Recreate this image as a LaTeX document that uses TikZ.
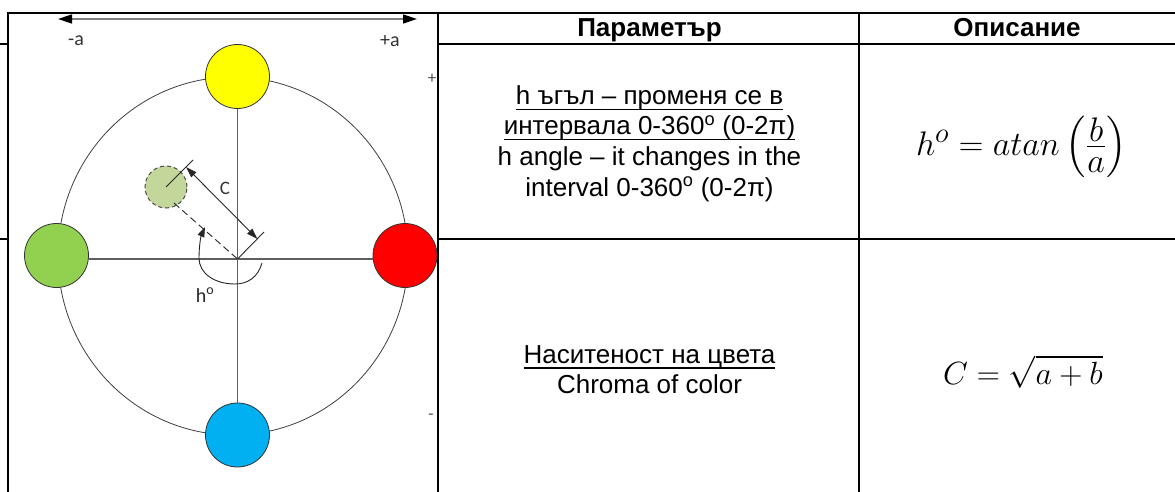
\documentclass[tikz,border=0pt]{standalone}
\usepackage{amsmath}
\usepackage{fontspec}
\setmainfont{Liberation Sans}
\newfontfamily\labfont{Carlito}
\usetikzlibrary{arrows.meta}
\definecolor{cyel}{RGB}{255,255,0}
\definecolor{cgrn}{RGB}{146,208,80}
\definecolor{cred}{RGB}{255,0,0}
\definecolor{cblu}{RGB}{0,176,240}
\definecolor{cpale}{RGB}{196,215,155}
\definecolor{axgray}{RGB}{95,95,95}
\newcommand\ulbox[1]{\setbox0\hbox{#1}\rlap{\rule[-5.5pt]{\wd0}{1.8pt}}\box0}
\begin{document}
\begin{tikzpicture}[x=1pt,y=1pt,
  tline/.style={line width=2pt},
  hue/.style={circle, draw=black!80, line width=0.8pt, minimum size=64pt, inner sep=0pt},
  lab/.style={font=\labfont\fontsize{20}{24}\selectfont, text=black!80, inner sep=0pt},
  cell/.style={font=\fontsize{26}{30}\selectfont, anchor=base, inner sep=0pt},
  head/.style={font=\bfseries\fontsize{26}{30}\selectfont, anchor=base, inner sep=0pt},
  formula/.style={font=\fontsize{24.88}{30}\selectfont, anchor=base, inner sep=0pt, transform shape},
  axisline/.style={draw=axgray, line width=1.3pt},
  thinline/.style={draw=black!85, line width=0.9pt},
  tipbig/.style={{Triangle[length=14pt,width=9pt,color=black]}-{Triangle[length=14pt,width=9pt,color=black]}},
  tipdim/.style={{Triangle[length=11pt,width=7pt]}-{Triangle[length=11pt,width=7pt]}},
  tipone/.style={-{Triangle[length=10pt,width=7pt]}}
]
\useasboundingbox (0,0) rectangle (1175,-492);
\fill[white] (0,0) rectangle (1175,-492);

% table rules
\draw[tline] (8,-13) -- (1175,-13);
\draw[tline] (0,-44) -- (1175,-44);
\draw[tline] (0,-239) -- (1175,-239);
\draw[line width=1.5pt] (859,-13) -- (859,-492);

% picture frame
\filldraw[fill=white, line width=2pt] (8,-13) rectangle (438,-500);

% top a-axis arrow
\coordinate (aL) at (58,-19);
\coordinate (aR) at (417,-19);
\draw[draw=gray, line width=1.5pt, tipbig] (aL) -- (aR);
\node[lab] (lmA) at (76,-41) {-a};
\node[lab] (lpA) at (390,-41) {+a};
\node[font=\labfont\fontsize{17}{18}\selectfont, text=black!70, inner sep=0pt] (pb) at (432,-79) {+};
\node[font=\labfont\fontsize{17}{18}\selectfont, text=black!70, inner sep=0pt] (mb) at (431,-417) {-};

% hue circle
\draw[black!75, line width=0.8pt] (233,-256) ellipse [x radius=175, y radius=179];

\coordinate (O) at (237.5,-259);
\node[hue, fill=cyel] (Y) at (237.5,-76.5) {};
\node[hue, fill=cblu] (B) at (237.5,-435) {};
\node[hue, fill=cgrn] (G) at (56.5,-255.5) {};
\node[hue, fill=cred] (R) at (405,-255.5) {};

\draw[axisline] (Y) -- (B);
\draw[axisline] (O -| G.east) -- (O -| R.west);

% chroma sample
\node[circle, draw=black!70, fill=cpale, minimum size=42pt, inner sep=0pt, line width=1pt, dash pattern=on 4pt off 3pt] (D) at (166,-187) {};
\coordinate (De) at (193,-160);
\coordinate (Oe) at (264,-232);
\draw[thinline] (D.center) -- (De);
\draw[thinline] (O) -- (Oe);
\coordinate (Ct) at (186,-167);
\coordinate (Cb) at (257.5,-239);
\draw[thinline, tipdim] (Ct) -- (Cb);
\node[lab, font=\labfont\fontsize{19}{24}\selectfont] (lC) at (225,-188) {C};

\coordinate (Ds) at (174,-203);
\draw[thinline, dash pattern=on 7pt off 4pt] (Ds) -- (O);

% hue angle arc
\coordinate (Hs) at (262,-263);
\coordinate (Ht) at (205,-227);
\draw[thinline, tipone] (Hs) .. controls (258,-277) and (248,-284) .. (235,-284)
  .. controls (214,-284) and (199,-273) .. (199,-258)
  .. controls (199,-246) and (201,-236) .. (Ht);
\node[lab, text=black!85] (lh) at (205,-295) {h\textsuperscript{o}};

% table text
\node[head] (hP) at (649.5,-37) {Параметър};
\node[head] (hO) at (1017,-37) {Описание};

\node[cell] (p1) at (649.5,-105) {\ulbox{h ъгъл – променя се в}};
\node[cell] (p2) at (649.5,-135) {\ulbox{интервала 0-360\textsuperscript{o} (0-2π)}};
\node[cell] (p3) at (649.5,-165) {h angle – it changes in the};
\node[cell] (p4) at (649.5,-196) {interval 0-360\textsuperscript{o} (0-2π)};

\node[cell] (q1) at (649.5,-363) {\ulbox{Наситеност на цвета}};
\node[cell] (q2) at (649.5,-393) {Chroma of color};

\node[formula, scale=1.37] (f1) at (1021.5,-155) {$h^{o} = atan\left(\frac{\textstyle b}{\textstyle a\vphantom{b}}\right)$};
\node[formula, scale=1.29] (f2) at (1023,-384) {$C = \sqrt{a+b}$};
\end{tikzpicture}
\end{document}
